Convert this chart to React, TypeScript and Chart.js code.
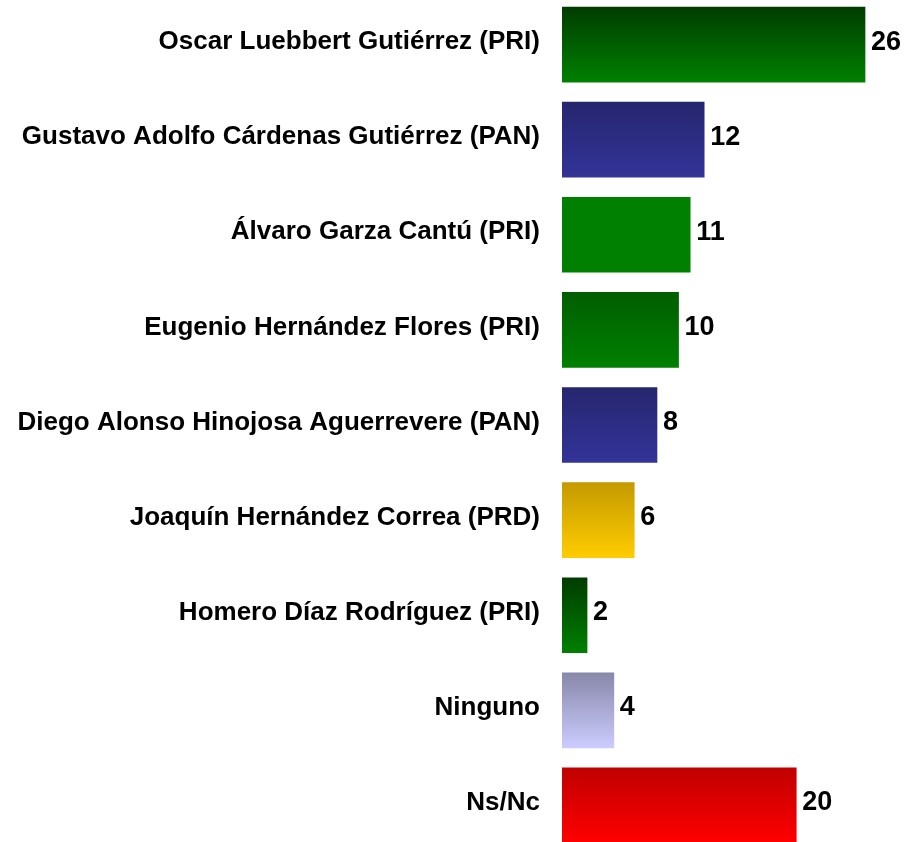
import React, { useEffect, useRef } from "react";
import { Chart, registerables } from "chart.js";

Chart.register(...registerables);

const categories = [
  "Oscar Luebbert Gutiérrez (PRI)",
  "Gustavo Adolfo Cárdenas Gutiérrez (PAN)",
  "Álvaro Garza Cantú (PRI)",
  "Eugenio Hernández Flores (PRI)",
  "Diego Alonso Hinojosa Aguerrevere (PAN)",
  "Joaquín Hernández Correa (PRD)",
  "Homero Díaz Rodríguez (PRI)",
  "Ninguno",
  "Ns/Nc",
];

// bar lengths (labels show rounded values)
const values = [26, 12.2, 11, 10, 8.15, 6.2, 2.15, 4.45, 20.1];
const valueLabels = ["26", "12", "11", "10", "8", "6", "2", "4", "20"];

const topColors = ["#003c00", "#26266f", "#008000", "#005e00", "#26266f", "#c49a00", "#003c00", "#8888aa", "#c00000"];
const bottomColors = ["#008000", "#333399", "#008000", "#008000", "#333399", "#ffcc00", "#008000", "#ccccff", "#ff0000"];

const FONT = "Arial, 'Liberation Sans', sans-serif";
const BAR_THICKNESS = 75;

const labelPlugin = {
  id: "labelPlugin",
  afterDatasetsDraw(chart: any) {
    const ctx = chart.ctx;
    const xs = chart.scales.x;
    const ys = chart.scales.y;
    ctx.save();
    ctx.fillStyle = "#000000";
    ctx.textBaseline = "middle";
    categories.forEach((c, i) => {
      const y = ys.getPixelForValue(i) - 2.5;
      ctx.font = `bold 26px ${FONT}`;
      ctx.textAlign = "right";
      ctx.fillText(c, xs.getPixelForValue(0) - 22, y);
      ctx.font = `bold 27px ${FONT}`;
      ctx.textAlign = "left";
      ctx.fillText(valueLabels[i], xs.getPixelForValue(values[i]) + 6, y);
    });
    ctx.restore();
  },
};

export default function App() {
  const ref = useRef<HTMLCanvasElement>(null);
  useEffect(() => {
    if (!ref.current) return;
    const chart = new Chart(ref.current, {
      type: "bar",
      data: {
        labels: categories,
        datasets: [
          {
            data: values,
            barThickness: BAR_THICKNESS,
            borderWidth: 0,
            backgroundColor: (c: any) => {
              const ch = c.chart;
              const ys = ch.scales && ch.scales.y;
              const i = c.dataIndex;
              if (!ys || i === undefined) return bottomColors[0];
              const yc = ys.getPixelForValue(i);
              if (!Number.isFinite(yc)) return bottomColors[i];
              const g = ch.ctx.createLinearGradient(0, yc - BAR_THICKNESS / 2, 0, yc + BAR_THICKNESS / 2);
              g.addColorStop(0, topColors[i]);
              g.addColorStop(1, bottomColors[i]);
              return g;
            },
          },
        ],
      },
      options: {
        indexAxis: "y",
        responsive: false,
        animation: false,
        devicePixelRatio: 1,
        layout: { padding: { left: 562, right: 0, top: 0, bottom: 0 } },
        plugins: { legend: { display: false }, tooltip: { enabled: false } },
        scales: {
          x: { display: false, min: 0, max: 29.43 },
          y: { display: false, offset: true },
        },
      },
      plugins: [labelPlugin],
    } as any);
    return () => chart.destroy();
  }, []);
  return (
    <div style={{ position: "fixed", left: 0, top: 0, width: 905, height: 842, overflow: "hidden", background: "#fff" }}>
      <div style={{ position: "absolute", left: 0, top: -3, width: 905, height: 856 }}>
        <canvas ref={ref} width={905} height={856} style={{ display: "block", width: 905, height: 856 }} />
      </div>
    </div>
  );
}
